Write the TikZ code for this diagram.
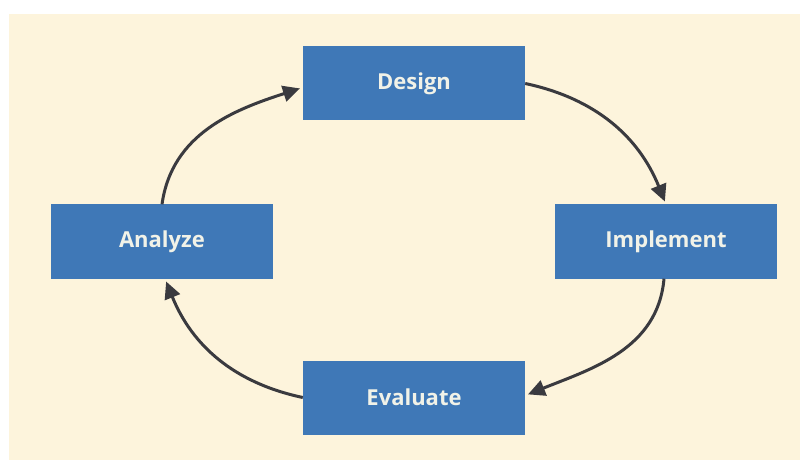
\documentclass[tikz,border=0pt]{standalone}
\usepackage{fontspec}
\setsansfont{Open Sans}
\usepackage{tikz}
\usetikzlibrary{arrows.meta}
\definecolor{paper}{HTML}{FDF4DC}
\definecolor{boxblue}{HTML}{3F78B7}
\definecolor{arrowgray}{HTML}{3A3A3F}
\definecolor{labelwhite}{HTML}{F1F2E8}
\tikzstyle{stage} = [rectangle, minimum width=222pt, minimum height=74pt, inner sep=0pt, text centered, fill=boxblue, text=labelwhite, font=\sffamily\bfseries\fontsize{22}{26}\selectfont]
\tikzstyle{arrow} = [line width=3pt, draw=arrowgray, -{Triangle[length=17pt,width=16pt]}, shorten >=3pt]

\begin{document}
\begin{tikzpicture}[node distance=252pt]

% Background
\useasboundingbox (-162pt,241.5pt) rectangle (638pt,-218.5pt);
\fill[paper] (-153pt,227.5pt) rectangle (638pt,-218.5pt);

% Nodes
\node (analyze) [stage] {Analyze};
\node (design) [stage, right of=analyze, yshift=158pt] {Design};
\node (implement) [stage, right of=design, yshift=-158pt] {Implement};
\node (evaluate) [stage, right of=analyze, yshift=-156pt] {Evaluate};

% Arrows
\draw [arrow] (analyze.north) to[out=82, in=198] ([yshift=-4pt]design.west);
\draw [arrow] (design.east) to[out=-12, in=112] (implement.north);
\draw [arrow] ([xshift=-2pt]implement.south) to[out=-95, in=22] ([yshift=2pt]evaluate.east);
\draw [arrow] (evaluate.west) to[out=168, in=-68] ([xshift=3pt]analyze.south);

\end{tikzpicture}
\end{document}
